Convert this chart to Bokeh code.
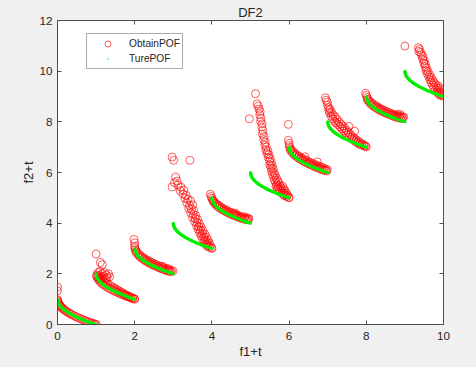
from bokeh.plotting import figure
from bokeh.models import (LinearAxis, FixedTicker, Range1d, Legend, LegendItem)
from bokeh.embed import file_html
from bokeh.resources import INLINE

# ---------------- data ----------------
T_VALUES = [0, 1, 2, 3, 4, 5, 6, 7, 8, 9]
X_TICKS = [0, 2, 4, 6, 8, 10]
Y_TICKS = [0, 2, 4, 6, 8, 10, 12]

# true Pareto front (one environment), shifted by t
TRUE_F1 = [0.0, 0.0025, 0.01, 0.0225, 0.04, 0.0625, 0.09, 0.1225, 0.16, 0.2025,
           0.25, 0.3025, 0.36, 0.4225, 0.49, 0.5625, 0.64, 0.7225, 0.81, 0.9025, 1.0]
TRUE_F2 = [1.0, 0.95, 0.9, 0.85, 0.8, 0.75, 0.7, 0.65, 0.6, 0.55,
           0.5, 0.45, 0.4, 0.35, 0.3, 0.25, 0.2, 0.15, 0.1, 0.05, 0.0]

# obtained points (f1, f2) per environment t, before the +t shift
OBT_T0 = [(0.0, 1.48), (0.0, 1.33), (0.0, 0.98), (0.003, 0.945), (0.01, 0.9), (0.02, 0.859),
          (0.03, 0.827), (0.045, 0.788), (0.06, 0.755), (0.08, 0.717), (0.1, 0.684),
          (0.12, 0.654), (0.15, 0.613), (0.18, 0.576), (0.21, 0.542), (0.25, 0.5),
          (0.29, 0.461), (0.33, 0.426), (0.37, 0.392), (0.42, 0.352), (0.47, 0.314),
          (0.52, 0.279), (0.57, 0.245), (0.62, 0.213), (0.67, 0.181), (0.72, 0.151),
          (0.77, 0.123), (0.82, 0.094), (0.87, 0.067), (0.91, 0.046), (0.95, 0.025),
          (0.98, 0.01), (1.0, 0.0)]
OBT_T1 = [(0.0, 1.78), (0.11, 1.45), (0.16, 1.36),
          (0.05, 1.05), (0.1, 1.1), (0.16, 1.0), (0.22, 1.05), (0.27, 0.95), (0.32, 1.0),
          (0.35, 0.88), (0.08, 0.93), (0.19, 0.9), (0.28, 0.84), (0.13, 0.86), (0.24, 0.8),
          (0.02, 0.95), (0.04, 0.88), (0.07, 0.82), (0.1, 0.78), (0.14, 0.74), (0.2, 0.69),
          (0.25, 0.64), (0.3, 0.6), (0.36, 0.54), (0.41, 0.49), (0.46, 0.45), (0.5, 0.41),
          (0.55, 0.36), (0.6, 0.32), (0.65, 0.28), (0.7, 0.24), (0.75, 0.19), (0.8, 0.15),
          (0.85, 0.11), (0.9, 0.08), (0.95, 0.04), (1.0, 0.01),
          (0.01, 0.9), (0.05, 0.78), (0.1, 0.69), (0.15, 0.62), (0.2, 0.56), (0.25, 0.51),
          (0.3, 0.46), (0.35, 0.42), (0.4, 0.38), (0.45, 0.34), (0.5, 0.3), (0.55, 0.27),
          (0.6, 0.23), (0.65, 0.2), (0.7, 0.17), (0.75, 0.14), (0.8, 0.11), (0.85, 0.08),
          (0.9, 0.05), (0.95, 0.03), (0.99, 0.0)]
OBT_T2 = [(-0.02, 1.36), (0.0, 1.22), (0.0, 1.1),
          (0.0, 1.02), (0.02, 0.95), (0.05, 0.88), (0.1, 0.79), (0.15, 0.72), (0.2, 0.66),
          (0.25, 0.61), (0.3, 0.56), (0.35, 0.52), (0.4, 0.48), (0.45, 0.44), (0.5, 0.4),
          (0.55, 0.37), (0.6, 0.33), (0.65, 0.3), (0.7, 0.27), (0.75, 0.24), (0.8, 0.21),
          (0.85, 0.18), (0.9, 0.15), (0.95, 0.13), (0.99, 0.11),
          (0.03, 0.87), (0.08, 0.76), (0.13, 0.68), (0.18, 0.62), (0.23, 0.56), (0.28, 0.51),
          (0.33, 0.47), (0.38, 0.42), (0.43, 0.38), (0.48, 0.35), (0.53, 0.31), (0.58, 0.28),
          (0.63, 0.24), (0.68, 0.21), (0.73, 0.18), (0.78, 0.15), (0.83, 0.13), (0.88, 0.1),
          (0.93, 0.08), (0.72, 0.3), (0.88, 0.2)]
OBT_T3 = [(-0.03, 3.61), (0.01, 3.48), (0.43, 3.48),
          (0.06, 2.82), (-0.03, 2.43), (0.03, 2.6), (0.1, 2.66), (0.12, 2.5), (0.2, 2.42),
          (0.27, 2.3), (0.18, 2.28), (0.25, 2.15), (0.33, 2.1), (0.3, 1.98), (0.38, 1.95),
          (0.45, 1.88), (0.35, 1.8), (0.42, 1.7), (0.5, 1.72), (0.4, 1.58), (0.47, 1.55),
          (0.53, 1.5), (0.45, 1.4), (0.52, 1.35), (0.58, 1.3), (0.5, 1.22), (0.57, 1.18),
          (0.63, 1.15), (0.55, 1.07), (0.62, 1.02), (0.68, 0.98), (0.6, 0.9), (0.66, 0.86),
          (0.72, 0.84), (0.64, 0.76), (0.7, 0.72), (0.77, 0.7), (0.68, 0.62), (0.75, 0.58),
          (0.82, 0.56), (0.72, 0.5), (0.79, 0.46), (0.86, 0.44), (0.76, 0.38), (0.83, 0.34),
          (0.9, 0.33), (0.8, 0.27), (0.87, 0.24), (0.93, 0.22), (0.84, 0.17), (0.9, 0.13),
          (0.96, 0.12), (0.88, 0.08), (0.94, 0.05), (0.99, 0.03), (1.0, 0.0)]
OBT_T4 = [(-0.04, 1.14), (-0.02, 1.05), (0.0, 0.98), (0.02, 0.92), (0.05, 0.86), (0.1, 0.79),
          (0.15, 0.73), (0.2, 0.67), (0.25, 0.62), (0.3, 0.57), (0.35, 0.53), (0.4, 0.49),
          (0.45, 0.45), (0.5, 0.42), (0.55, 0.38), (0.6, 0.35), (0.65, 0.32), (0.7, 0.29),
          (0.75, 0.26), (0.8, 0.23), (0.85, 0.21), (0.9, 0.19), (0.94, 0.18), (0.96, 0.18),
          (0.03, 0.86), (0.08, 0.76), (0.13, 0.68), (0.18, 0.62), (0.23, 0.57), (0.28, 0.52),
          (0.33, 0.48), (0.38, 0.44), (0.43, 0.4), (0.48, 0.36), (0.53, 0.33), (0.58, 0.3),
          (0.63, 0.27), (0.68, 0.24), (0.73, 0.21), (0.78, 0.18), (0.83, 0.16), (0.88, 0.14),
          (0.93, 0.13), (0.6, 0.4), (0.85, 0.25)]
OBT_T5 = [(-0.03, 3.12), (0.13, 4.11),
          (0.17, 3.71), (0.2, 3.62), (0.22, 3.5), (0.25, 3.4), (0.24, 3.28), (0.27, 3.15),
          (0.26, 3.02), (0.3, 2.92), (0.29, 2.79), (0.32, 2.66), (0.31, 2.52), (0.35, 2.42),
          (0.34, 2.3), (0.38, 2.2), (0.37, 2.08), (0.41, 2.0), (0.4, 1.88), (0.45, 1.85),
          (0.43, 1.75), (0.48, 1.7), (0.46, 1.6), (0.51, 1.55), (0.49, 1.45), (0.54, 1.4),
          (0.5, 1.3), (0.56, 1.27), (0.53, 1.18), (0.59, 1.14), (0.55, 1.05), (0.61, 1.0),
          (0.57, 0.92), (0.64, 0.9), (0.6, 0.82), (0.67, 0.78), (0.62, 0.7), (0.7, 0.68),
          (0.65, 0.6), (0.73, 0.6), (0.68, 0.52), (0.76, 0.5), (0.83, 0.46), (0.71, 0.44),
          (0.79, 0.4), (0.86, 0.36), (0.75, 0.35), (0.82, 0.3), (0.9, 0.27), (0.78, 0.26),
          (0.86, 0.2), (0.93, 0.18), (0.82, 0.17), (0.9, 0.12), (0.96, 0.1), (0.87, 0.09),
          (0.94, 0.05), (0.99, 0.02), (1.0, 0.0), (0.66, 0.45), (0.7, 0.36)]
OBT_T6 = [(-0.02, 1.9), (-0.02, 1.27), (0.0, 1.15), (0.0, 1.06), (0.02, 0.98), (0.05, 0.92),
          (0.1, 0.83), (0.15, 0.76), (0.2, 0.7), (0.25, 0.64), (0.3, 0.59), (0.35, 0.55),
          (0.4, 0.51), (0.45, 0.47), (0.5, 0.43), (0.55, 0.39), (0.6, 0.36), (0.65, 0.33),
          (0.7, 0.29), (0.75, 0.26), (0.8, 0.23), (0.85, 0.2), (0.9, 0.16), (0.95, 0.13),
          (0.99, 0.11),
          (0.03, 0.88), (0.08, 0.78), (0.13, 0.7), (0.18, 0.64), (0.23, 0.58), (0.28, 0.53),
          (0.33, 0.49), (0.38, 0.44), (0.43, 0.4), (0.48, 0.36), (0.53, 0.33), (0.58, 0.29),
          (0.63, 0.26), (0.68, 0.22), (0.73, 0.19), (0.78, 0.16), (0.83, 0.13), (0.88, 0.1),
          (0.93, 0.08), (0.97, 0.06), (0.41, 0.62), (0.73, 0.42)]
OBT_T7 = [(-0.06, 1.95), (-0.04, 1.85), (-0.01, 1.78), (0.0, 1.66), (0.02, 1.56), (0.03, 1.45),
          (0.06, 1.5), (0.05, 1.35), (0.1, 1.38), (0.09, 1.22), (0.14, 1.28), (0.13, 1.12),
          (0.19, 1.2), (0.18, 1.02), (0.24, 1.1), (0.22, 0.95), (0.29, 1.0), (0.27, 0.88),
          (0.34, 0.92), (0.32, 0.8), (0.39, 0.84), (0.37, 0.72), (0.44, 0.75), (0.42, 0.64),
          (0.49, 0.66), (0.47, 0.56), (0.54, 0.58), (0.52, 0.48), (0.59, 0.5), (0.57, 0.41),
          (0.64, 0.42), (0.62, 0.34), (0.69, 0.35), (0.67, 0.28), (0.74, 0.29), (0.72, 0.22),
          (0.79, 0.23), (0.77, 0.17), (0.84, 0.18), (0.82, 0.12), (0.89, 0.13), (0.87, 0.08),
          (0.93, 0.09), (0.95, 0.05), (0.98, 0.04), (1.0, 0.01), (0.55, 0.82), (0.7, 0.63)]
OBT_T8 = [(-0.02, 1.13), (0.0, 1.04), (0.02, 0.96), (0.05, 0.89), (0.1, 0.8), (0.15, 0.74),
          (0.2, 0.68), (0.25, 0.63), (0.3, 0.58), (0.35, 0.54), (0.4, 0.5), (0.45, 0.46),
          (0.5, 0.42), (0.55, 0.39), (0.6, 0.36), (0.65, 0.32), (0.7, 0.29), (0.75, 0.26),
          (0.8, 0.24), (0.85, 0.22), (0.9, 0.2), (0.94, 0.19), (0.97, 0.19),
          (0.03, 0.86), (0.08, 0.76), (0.13, 0.68), (0.18, 0.62), (0.23, 0.57), (0.28, 0.52),
          (0.33, 0.48), (0.38, 0.44), (0.43, 0.4), (0.48, 0.36), (0.53, 0.33), (0.58, 0.3),
          (0.63, 0.27), (0.68, 0.24), (0.73, 0.21), (0.78, 0.18), (0.83, 0.16), (0.88, 0.14),
          (0.93, 0.13), (0.82, 0.3), (0.88, 0.28)]
OBT_T9 = [(0.0, 1.99), (0.35, 1.93), (0.38, 1.86), (0.36, 1.78), (0.41, 1.74), (0.43, 1.64),
          (0.47, 1.58), (0.46, 1.48), (0.5, 1.42), (0.49, 1.32), (0.53, 1.28), (0.52, 1.18),
          (0.56, 1.12), (0.55, 1.02), (0.6, 0.98), (0.58, 0.9), (0.64, 0.86), (0.62, 0.78),
          (0.68, 0.75), (0.65, 0.66), (0.72, 0.64), (0.68, 0.55), (0.76, 0.55), (0.72, 0.45),
          (0.8, 0.46), (0.86, 0.42), (0.75, 0.36), (0.83, 0.35), (0.9, 0.33), (0.79, 0.27),
          (0.87, 0.25), (0.94, 0.24), (0.83, 0.18), (0.9, 0.16), (0.97, 0.15), (0.87, 0.1),
          (0.94, 0.08), (0.99, 0.06), (0.92, 0.04), (1.0, 0.0)]
OBTAINED = [OBT_T0, OBT_T1, OBT_T2, OBT_T3, OBT_T4, OBT_T5, OBT_T6, OBT_T7, OBT_T8, OBT_T9]

# ---------------- build sources ----------------
obt_x, obt_y = [], []
for t, pts in zip(T_VALUES, OBTAINED):
    for f1, f2 in pts:
        obt_x.append(f1 + t)
        obt_y.append(f2 + t)

true_xs = [[f + t for f in TRUE_F1] for t in T_VALUES]
true_ys = [[f + t for f in TRUE_F2] for t in T_VALUES]
true_px = [v for seg in true_xs for v in seg]
true_py = [v for seg in true_ys for v in seg]

AX = "#4d4d4d"
TXT = "#262626"
FONT = "Liberation Sans"
GREEN = "#00ee00"

p = figure(width=476, height=367, output_backend="svg", toolbar_location=None,
           x_range=Range1d(0, 10), y_range=Range1d(0, 12),
           min_border_left=57, min_border_right=33, min_border_top=20,
           min_border_bottom=43)
p.border_fill_color = "#f0f0f0"
p.background_fill_color = "white"
p.outline_line_color = AX
p.outline_line_width = 1
p.grid.visible = False

red = p.scatter(obt_x, obt_y, marker="circle", size=8, fill_color=None,
                line_color="#ff0000", line_width=0.8, line_alpha=0.8)
gdots = p.scatter(true_px, true_py, marker="dot", size=12, line_color=GREEN,
                  fill_color=GREEN)
p.multi_line(true_xs, true_ys, line_color=GREEN, line_width=3.2)


def style_axis(ax, xdir, labels=True):
    ticks = X_TICKS if xdir else Y_TICKS
    ax.ticker = FixedTicker(ticks=ticks)
    ax.major_tick_in = 4
    ax.major_tick_out = 0
    ax.minor_tick_line_color = None
    ax.axis_line_color = AX
    ax.major_tick_line_color = AX
    ax.major_label_text_font = FONT
    ax.major_label_text_font_size = "11.7px"
    ax.major_label_text_color = TXT
    ax.axis_label_text_font = FONT
    ax.axis_label_text_font_size = "13px"
    ax.axis_label_text_font_style = "normal"
    ax.axis_label_text_color = TXT
    if not labels:
        ax.major_label_overrides = {t: "" for t in ticks}
        ax.major_label_standoff = 0


style_axis(p.xaxis[0], True)
style_axis(p.yaxis[0], False)
p.xaxis.major_label_standoff = 7
p.yaxis.major_label_standoff = 5
p.xaxis.axis_label = "f1+t"
p.yaxis.axis_label = "f2+t"
p.xaxis.axis_label_standoff = 1
p.yaxis.axis_label_standoff = 0

# top axis carries the title "DF2"
top_ax = LinearAxis(axis_label="DF2")
style_axis(top_ax, True, labels=False)
top_ax.axis_label_standoff = 1
p.add_layout(top_ax, "above")
right_ax = LinearAxis()
style_axis(right_ax, False, labels=False)
p.add_layout(right_ax, "right")

legend = Legend(items=[LegendItem(label="ObtainPOF", renderers=[red]),
                       LegendItem(label="TurePOF", renderers=[gdots])],
                location=(29, 255), margin=0, padding=2, spacing=0,
                glyph_width=37, glyph_height=15, label_height=15, label_standoff=3,
                label_text_font=FONT, label_text_font_size="10.2px",
                label_text_color=TXT, border_line_color="#5a5a5a",
                border_line_width=1, background_fill_color="white")
p.add_layout(legend)

html = file_html(p, INLINE)
html = html.replace("<head>", "<head><style>body{background:#f0f0f0;}</style>", 1)
open("out.html", "w").write(html)
